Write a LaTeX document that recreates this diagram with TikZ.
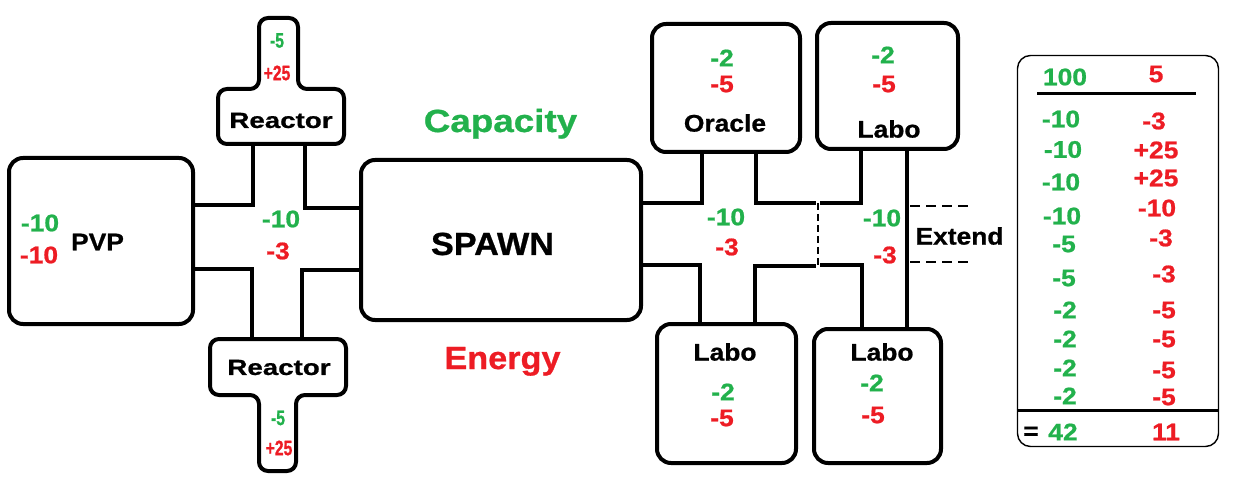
\documentclass[tikz,border=0pt]{standalone}
\usepackage{fontspec}
\setmainfont{Liberation Sans}[FakeStretch=1.1, BoldFeatures={FakeBold=0.8}]
\newfontfamily\reacfont{Liberation Sans}[FakeStretch=1.26, BoldFeatures={FakeBold=0.8}]
\newfontfamily\narrowfont{Liberation Sans}[FakeStretch=0.75, BoldFeatures={FakeBold=0.8}]
\newfontfamily\capfont{Liberation Sans}[FakeStretch=1.15, BoldFeatures={FakeBold=0.8}]
\newfontfamily\bigfont{Liberation Sans}[FakeStretch=1.07, BoldFeatures={FakeBold=0.8}]
\definecolor{pgreen}{RGB}{34,177,76}
\definecolor{pred}{RGB}{237,28,36}
\begin{document}
\begin{tikzpicture}[x=1pt,y=-1pt,
  room/.style={draw, line width=4pt, rounded corners=14pt, inner sep=0pt, outer sep=0pt},
  wall/.style={line width=4pt},
  thin dash/.style={line width=1.3pt, dash pattern=on 7pt off 4pt},
  ext dash/.style={line width=2.6pt, dash pattern=on 10pt off 6pt},
  txt/.style={inner sep=0pt, outer sep=0pt, font=\fontsize{24}{28}\selectfont\bfseries},
  gr/.style={txt, text=pgreen},
  rd/.style={txt, text=pred},
  bk/.style={txt, text=black},
  reac/.style={inner sep=0pt, font=\reacfont\fontsize{22}{26}\selectfont\bfseries},
  stemg/.style={inner sep=0pt, text=pgreen, font=\narrowfont\fontsize{21}{24}\selectfont\bfseries},
  stemr/.style={inner sep=0pt, text=pred, font=\narrowfont\fontsize{21}{24}\selectfont\bfseries},
  big/.style={inner sep=0pt, font=\bigfont\fontsize{32}{36}\selectfont\bfseries},
  rule/.style={line width=3pt}]
\useasboundingbox (0,0) rectangle (1235,481);

% ---------- rooms ----------
\node[room, minimum width=184pt, minimum height=166pt] (pvp) at (101,241) {};
\node[room, minimum width=280pt, minimum height=160pt] (spawn) at (501,240) {};
\node[room, minimum width=148pt, minimum height=128pt] (oracle) at (726,88) {};
\node[room, minimum width=141pt, minimum height=126pt] (laboA) at (887.5,86) {};
\node[room, minimum width=139pt, minimum height=139pt] (laboB) at (726.5,393.5) {};
\node[room, minimum width=127pt, minimum height=134pt] (laboC) at (877.5,396) {};

% reactors (T shapes)
\draw[line width=4pt, rounded corners=9pt]
  (278,18) -- (298,18) -- (298,89) -- (344,89) -- (344,144) -- (218,144)
  -- (218,89) -- (259,89) -- (259,18) -- cycle;
\draw[line width=4pt, rounded corners=9pt]
  (278,471) -- (259,471) -- (259,395) -- (210,395) -- (210,339) -- (346,339)
  -- (346,395) -- (296,395) -- (296,471) -- cycle;
\coordinate (rtop) at (278,144);
\coordinate (rbot) at (278,339);

% ---------- left corridor ----------
\draw[wall] (pvp.east |- 0,205) -- (253,205) -- (253,0 |- rtop);
\draw[wall] (305,0 |- rtop) -- (305,208) -- (spawn.west |- 0,208);
\draw[wall] (pvp.east |- 0,269) -- (252,269) -- (252,0 |- rbot);
\draw[wall] (302,0 |- rbot) -- (302,270) -- (spawn.west |- 0,270);

% ---------- right corridor ----------
\draw[wall] (spawn.east |- 0,203) -- (702,203) -- (702,0 |- oracle.south);
\draw[wall] (756,0 |- oracle.south) -- (756,203) -- (816,203);
\draw[thin dash] (818,203) -- (818,267);
\draw[wall] (820,203) -- (861,203) -- (861,0 |- laboA.south);
\draw[wall] (907,0 |- laboA.south) -- (907,0 |- laboC.north);
\draw[wall] (spawn.east |- 0,265) -- (700,265) -- (700,0 |- laboB.north);
\draw[wall] (755,0 |- laboB.north) -- (755,266) -- (816,266);
\draw[wall] (820,265) -- (862,265) -- (862,0 |- laboC.north);
\draw[ext dash] (910,206) -- (972,206);
\draw[ext dash] (910,262) -- (972,262);

% ---------- texts ----------
\node[gr] (pvpc) at (40,223) {-10};
\node[rd] (pvpe) at (39,255) {-10};
\node[bk] (pvpt) at (97.5,242) {PVP};

\node[gr] (lc) at (281,219) {-10};
\node[rd] (le) at (278,251) {-3};

\node[stemg] (rtc) at (277,40.5) {-5};
\node[stemr] (rte) at (277,73) {+25};
\node[reac] (rtt) at (281,120.5) {Reactor};
\node[reac] (rbt) at (279,367.5) {Reactor};
\node[stemg] (rbc) at (278,418) {-5};
\node[stemr] (rbe) at (279,448) {+25};

\node[big, text=pgreen, anchor=base] (capa) at (500.5,132) {\capfont Capacity};
\node[big, anchor=base] (spawnt) at (492.5,255) {SPAWN};
\node[big, text=pred, anchor=base] (ener) at (502.5,369) {Energy};

\node[gr] (oc) at (722,58) {-2};
\node[rd] (oe) at (722,84) {-5};
\node[bk] (ot) at (725,123) {Oracle};

\node[gr] (lac) at (883,55) {-2};
\node[rd] (lae) at (884,84) {-5};
\node[bk] (lat) at (889,129) {Labo};

\node[gr] (mc) at (726,217) {-10};
\node[rd] (me) at (727,247) {-3};
\node[gr] (rc) at (882,218) {-10};
\node[rd] (re) at (885,255) {-3};
\node[bk] (ext) at (959.5,236) {Extend};

\node[bk] (lbt) at (725,352) {Labo};
\node[gr] (lbc) at (723,392) {-2};
\node[rd] (lbe) at (722,418) {-5};

\node[bk] (lct) at (882,352) {Labo};
\node[gr] (lcc) at (872,383) {-2};
\node[rd] (lce) at (873,415) {-5};

% ---------- table ----------
\node[draw, line width=1.4pt, rounded corners=13pt, minimum width=201pt, minimum height=391pt, inner sep=0pt] (tbl) at (1118,251) {};
\node[gr] (t0c) at (1065,77) {100};
\node[rd] (t0e) at (1156,74) {5};
\draw[rule] (1037,94) -- (1196,94);

\node[gr] (t1c) at (1061,119) {-10};   \node[rd] (t1e) at (1154,121) {-3};
\node[gr] (t2c) at (1063,149.5) {-10}; \node[rd] (t2e) at (1156,150) {+25};
\node[gr] (t3c) at (1061,182) {-10};   \node[rd] (t3e) at (1156,178) {+25};
\node[gr] (t4c) at (1062,216) {-10};   \node[rd] (t4e) at (1157,208) {-10};
\node[gr] (t5c) at (1064,244) {-5};    \node[rd] (t5e) at (1161,238) {-3};
\node[gr] (t6c) at (1064,278) {-5};    \node[rd] (t6e) at (1164,274) {-3};
\node[gr] (t7c) at (1065,310) {-2};    \node[rd] (t7e) at (1164,310) {-5};
\node[gr] (t8c) at (1065,339) {-2};    \node[rd] (t8e) at (1164,339) {-5};
\node[gr] (t9c) at (1065,368) {-2};    \node[rd] (t9e) at (1164,370) {-5};
\node[gr] (tac) at (1065,396) {-2};    \node[rd] (tae) at (1164,397) {-5};

\draw[rule] (tbl.west |- 0,410) -- (tbl.east |- 0,410);
\node[bk] (teq) at (1031,433) {=};
\node[gr] (tsc) at (1063,432) {42};
\node[rd] (tse) at (1166,432) {11};
\end{tikzpicture}
\end{document}
